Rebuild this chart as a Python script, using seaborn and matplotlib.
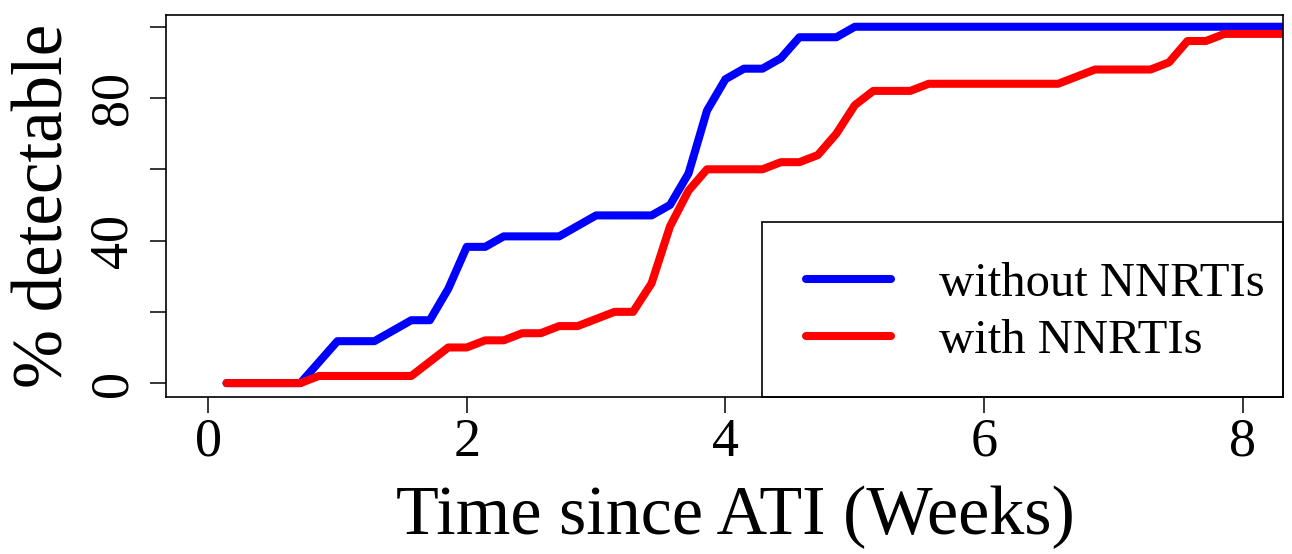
import matplotlib
matplotlib.use("Agg")
import matplotlib.pyplot as plt
from matplotlib.patches import Rectangle
import seaborn as sns
import pandas as pd

# ---- data (time in days / 7 = weeks, percentage detectable) ----
without_days = [1, 5, 7, 9, 11, 12, 13, 14, 15, 16, 19, 21, 24, 25, 26, 27, 28, 29, 30, 31, 32, 34, 35, 63]
without_count = [0, 0, 4, 4, 6, 6, 9, 13, 13, 14, 14, 16, 16, 17, 20, 26, 29, 30, 30, 31, 33, 33, 34, 34]
without_n = 34

with_days = [1, 5, 6, 11, 13, 14, 15, 16, 17, 18, 19, 20, 21, 22, 23, 24, 25, 26, 27, 30, 31, 32, 33, 34,
             35, 36, 38, 39, 46, 48, 51, 52, 53, 54, 55, 63]
with_count = [0, 0, 1, 1, 5, 5, 6, 6, 7, 7, 8, 8, 9, 10, 10, 14, 22, 27, 30, 30, 31, 31, 32, 35,
              39, 41, 41, 42, 42, 44, 44, 45, 48, 48, 49, 49]
with_n = 50

series_labels = ["without NNRTIs", "with NNRTIs"]
series_colors = ["#0000FF", "#FF0000"]
x_ticks = [0, 2, 4, 6, 8]
y_ticks = [0, 20, 40, 60, 80, 100]
y_ticklabels = ["0", "", "40", "", "80", ""]

df_without = pd.DataFrame({"weeks": [d / 7 for d in without_days],
                           "pct": [100 * c / without_n for c in without_count]})
df_with = pd.DataFrame({"weeks": [d / 7 for d in with_days],
                        "pct": [100 * c / with_n for c in with_count]})

sns.set_style("ticks")
plt.rcParams["font.family"] = ["Liberation Serif", "DejaVu Serif"]
plt.rcParams["text.color"] = "black"
plt.rcParams["axes.labelcolor"] = "black"
plt.rcParams["xtick.color"] = "black"
plt.rcParams["ytick.color"] = "black"

W, H = 1292, 554
fig = plt.figure(figsize=(W / 100, H / 100), dpi=100)
ax = fig.add_axes([166 / W, 1 - 397 / H, (1283 - 166) / W, (397 - 15) / H])

lw = 5.8
for df, lab, col in zip([df_without, df_with], series_labels, series_colors):
    sns.lineplot(data=df, x="weeks", y="pct", ax=ax, color=col, linewidth=lw, label=lab,
                 estimator=None, sort=False, solid_capstyle="round", solid_joinstyle="round")

ax.set_xlim(-0.325, 8.31)
ax.set_ylim(-3.9, 103.3)
ax.set_xticks(x_ticks)
ax.set_xticklabels([str(t) for t in x_ticks])
ax.set_yticks(y_ticks)
ax.set_yticklabels(y_ticklabels)

for s in ax.spines.values():
    s.set_visible(True)
    s.set_color("black")
    s.set_linewidth(1.2)
    s.set_zorder(6)

ax.tick_params(axis="both", direction="out", length=11.5, width=1.1, color="black",
               labelsize=39, labelcolor="black")
ax.tick_params(axis="x", pad=3)
ax.tick_params(axis="y", pad=8, labelrotation=90)
for t in ax.get_yticklabels():
    t.set_verticalalignment("center")

ax.set_xlabel("Time since ATI (Weeks)", fontsize=50.5, color="black")
ax.set_ylabel("% detectable", fontsize=51, color="black")
ax.xaxis.set_label_coords(0.510, -0.232)
ax.yaxis.set_label_coords(-0.108, 0.5)
ax.yaxis.label.set_verticalalignment("center")

# legend frame (R-style box anchored at bottom-right corner of the plot)
box_left, box_top = 762, 222
ax.add_patch(Rectangle(((box_left - 166) / (1283 - 166), 0),
                       (1283 - box_left) / (1283 - 166), (397 - box_top) / (397 - 15),
                       transform=ax.transAxes, facecolor="white", edgecolor="black",
                       linewidth=1.2, zorder=4, clip_on=False))

leg = ax.legend(loc="upper left", bbox_to_anchor=(806 / W, 1 - 262 / H),
                bbox_transform=fig.transFigure, borderaxespad=0, borderpad=0,
                fontsize=35, frameon=False, handlelength=1.75, handletextpad=0.99,
                labelspacing=0.26, labelcolor="black")
leg.set_zorder(5)
for h in leg.get_lines():
    h.set_linewidth(lw)
    h.set_solid_capstyle("round")

fig.savefig("out.png", dpi=100)
